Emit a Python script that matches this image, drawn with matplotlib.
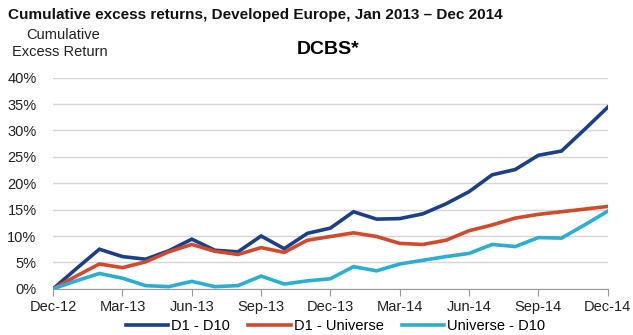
import matplotlib.pyplot as plt
import numpy as np

months = ["Dec-12", "Jan-13", "Feb-13", "Mar-13", "Apr-13", "May-13", "Jun-13",
          "Jul-13", "Aug-13", "Sep-13", "Oct-13", "Nov-13", "Dec-13",
          "Jan-14", "Feb-14", "Mar-14", "Apr-14", "May-14", "Jun-14",
          "Jul-14", "Aug-14", "Sep-14", "Oct-14", "Nov-14", "Dec-14"]

d1_d10 = [0.0, 3.8, 7.5, 6.1, 5.6, 7.2, 9.4, 7.3, 7.0, 10.0, 7.6, 10.5, 11.5,
          14.6, 13.2, 13.3, 14.2, 16.1, 18.4, 21.6, 22.6, 25.3, 26.1, 30.2, 34.4]
d1_univ = [0.0, 2.4, 4.7, 4.0, 5.1, 7.0, 8.4, 7.1, 6.5, 7.8, 6.9, 9.2, 9.9,
           10.6, 9.9, 8.6, 8.4, 9.2, 11.0, 12.1, 13.4, 14.1, 14.6, 15.1, 15.6]
univ_d10 = [0.0, 1.5, 2.9, 2.0, 0.6, 0.4, 1.4, 0.4, 0.6, 2.4, 0.9, 1.5, 1.9,
            4.2, 3.4, 4.7, 5.4, 6.1, 6.7, 8.4, 8.0, 9.7, 9.6, 12.1, 14.7]

series = [
    ("D1 - D10", d1_d10, "#1c3f8a"),
    ("D1 - Universe", d1_univ, "#d24a2c"),
    ("Universe - D10", univ_d10, "#2aaed3"),
]

plt.rcParams["font.family"] = ["Liberation Sans", "DejaVu Sans"]

fig = plt.figure(figsize=(6.33, 3.35), dpi=100, facecolor="white")
ax = fig.add_axes([0.084, 0.138, 0.876, 0.630])

x = np.arange(len(months))
for label, vals, color in series:
    ax.plot(x, vals, color=color, linewidth=2.6, label=label,
            solid_joinstyle="miter")

ax.set_xlim(0, len(months) - 1)
ax.set_ylim(0, 40)
ax.set_yticks(np.arange(0, 41, 5))
ax.set_yticklabels([f"{v}%" for v in range(0, 41, 5)], fontsize=10.5, color="#222222")
ax.set_xticks(x[::3])
ax.set_xticklabels(months[::3], fontsize=10.5, color="#222222")

ax.grid(axis="y", color="#d6d6d6", linewidth=1.0)
ax.set_axisbelow(True)
for s in ["left", "right", "top"]:
    ax.spines[s].set_visible(False)
ax.spines["bottom"].set_color("#9a9a9a")
ax.tick_params(axis="y", length=0, pad=12)
ax.tick_params(axis="x", direction="out", length=5, color="#9a9a9a", pad=3)

fig.text(0.012, 0.955, "Cumulative excess returns, Developed Europe, Jan 2013 \u2013 Dec 2014",
         fontsize=11, fontweight="bold", ha="left", va="center", color="#111111")
fig.text(0.1, 0.895, "Cumulative", fontsize=10.5, ha="center", va="center", color="#222222")
fig.text(0.095, 0.845, "Excess Return", fontsize=10.5, ha="center", va="center", color="#222222")
fig.text(0.518, 0.851, "DCBS*", fontsize=14, fontweight="bold", ha="center", va="center")

fig.legend(loc="center", bbox_to_anchor=(0.53, 0.028), ncol=3, frameon=False,
           fontsize=10.5, handlelength=2.9, handletextpad=0.2, columnspacing=1.25)

fig.savefig("out.png", dpi=100)
